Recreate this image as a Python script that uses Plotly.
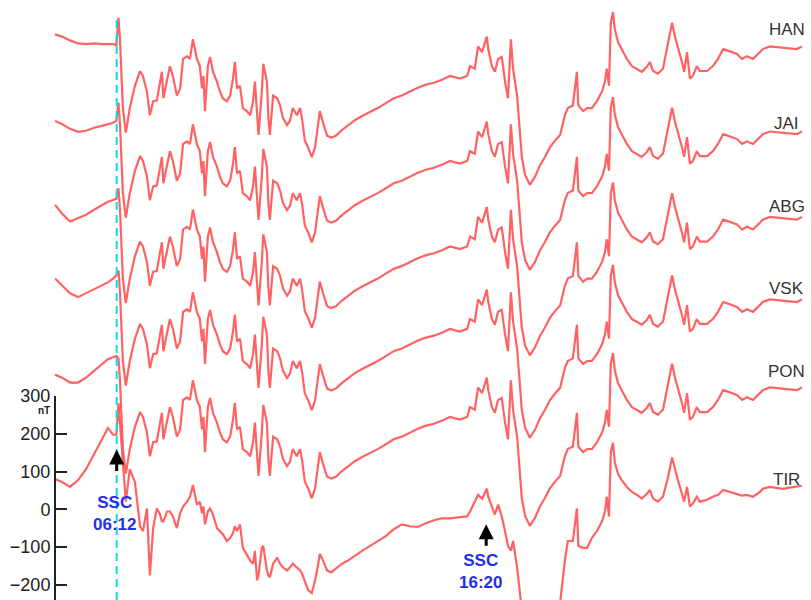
import plotly.graph_objects as go

# UT hours
times = [
    4.51, 4.70, 4.92, 5.14, 5.36, 5.58, 5.80, 5.96, 6.10, 6.19,
    6.25, 6.29, 6.37, 6.45, 6.56, 6.70, 6.84, 6.92, 7.03, 7.11,
    7.20, 7.30, 7.39, 7.44, 7.48, 7.58, 7.66, 7.74, 7.85, 7.94,
    8.02, 8.13, 8.21, 8.29, 8.40, 8.48, 8.54, 8.58, 8.62, 8.70,
    8.76, 8.84, 8.95, 9.03, 9.11, 9.22, 9.31, 9.39, 9.44, 9.50,
    9.58, 9.66, 9.77, 9.86, 9.94, 9.99, 10.05, 10.09, 10.18, 10.22,
    10.32, 10.36, 10.40, 10.49, 10.60, 10.68, 10.76, 10.87, 10.95, 11.03,
    11.14, 11.23, 11.28, 11.36, 11.45, 11.55, 11.64, 11.72, 11.77, 11.86,
    11.97, 12.08, 12.21, 12.38, 12.54, 12.73, 12.93, 13.15, 13.36, 13.58,
    13.80, 14.02, 14.24, 14.46, 14.68, 14.90, 15.12, 15.34, 15.61, 15.81,
    15.89, 16.02, 16.11, 16.22, 16.35, 16.39, 16.49, 16.57, 16.66, 16.76,
    16.85, 16.93, 17.01, 17.07, 17.18, 17.26, 17.31, 17.40, 17.53, 17.67,
    17.81, 17.94, 18.08, 18.22, 18.36, 18.49, 18.57, 18.71, 18.82, 18.86,
    18.99, 19.10, 19.23, 19.37, 19.51, 19.59, 19.64, 19.70, 19.75, 19.81,
    19.86, 19.95, 20.05, 20.19, 20.33, 20.47, 20.60, 20.74, 20.82, 20.91,
    21.04, 21.18, 21.32, 21.43, 21.51, 21.59, 21.70, 21.76, 21.84, 21.92,
    22.00, 22.11, 22.19, 22.39, 22.55, 22.69, 22.83, 23.02, 23.21, 23.35,
    23.48, 23.65, 23.84, 23.92, 24.11, 24.31, 24.47, 24.66, 24.85, 24.99,
]

# H-component deviations (nT) from each station's pre-SSC level
han = [
    29, 23, 13, 5, 3, 5, 3, 3, 3, 0,
    73, 16, -166, -231, -166, -107, -68, -81, -122, -185,
    -148, -146, -96, -70, -140, -88, -55, -81, -133, -114,
    -36, -29, -36, 16, -36, -55, -114, -81, -174, -55,
    -31, -70, -96, -122, -140, -148, -133, -88, -44, -114,
    -107, -166, -174, -185, -148, -96, -192, -237, -122, -49,
    -96, -192, -237, -133, -140, -159, -192, -211, -200, -166,
    -185, -166, -192, -252, -270, -296, -270, -200, -174, -205,
    -239, -244, -239, -224, -213, -198, -187, -177, -166, -153,
    -140, -133, -122, -112, -104, -99, -91, -81, -88, -81,
    -55, -62, -3, -18, 23, -10, -55, -70, -36, -31,
    -96, -140, 16, -62, -133, -237, -296, -343, -369, -348,
    -317, -296, -270, -252, -237, -185, -166, -159, -70, -159,
    -174, -166, -166, -148, -122, -96, -62, -107, 60, 88,
    42, 8, -10, -36, -55, -62, -70, -57, -44, -68,
    -75, -62, 8, 60, 23, -3, -44, -70, -18, -88,
    -81, -55, -68, -68, -55, -36, -10, -16, -23, -36,
    -29, -36, -18, -10, -3, -5, -8, -10, -10, -3,
]

jai = [
    0, -8, -21, -29, -26, -18, -13, -8, -5, 0,
    48, -9, -191, -256, -191, -132, -93, -106, -147, -210,
    -173, -171, -121, -95, -165, -113, -80, -106, -158, -139,
    -61, -54, -61, -9, -61, -80, -139, -106, -199, -80,
    -56, -95, -121, -147, -165, -173, -158, -113, -69, -139,
    -132, -191, -199, -210, -173, -121, -217, -262, -147, -74,
    -121, -217, -262, -158, -165, -184, -217, -236, -225, -191,
    -210, -191, -217, -277, -295, -321, -295, -225, -199, -230,
    -264, -269, -264, -249, -238, -223, -212, -202, -191, -178,
    -165, -158, -147, -137, -129, -124, -116, -106, -113, -106,
    -80, -87, -28, -43, -2, -35, -80, -95, -61, -56,
    -121, -165, -9, -87, -158, -262, -321, -368, -394, -373,
    -342, -321, -295, -277, -262, -210, -191, -184, -95, -184,
    -199, -191, -191, -173, -147, -121, -87, -132, 35, 63,
    17, -17, -35, -61, -80, -87, -95, -82, -69, -93,
    -100, -87, -17, 35, -2, -28, -69, -95, -43, -113,
    -106, -80, -93, -93, -80, -61, -35, -41, -48, -61,
    -54, -61, -43, -35, -28, -30, -33, -35, -35, -28,
]

abg = [
    -16, -39, -60, -52, -42, -29, -16, -8, -3, 0,
    28, -29, -211, -276, -211, -152, -113, -126, -167, -230,
    -193, -191, -141, -115, -185, -133, -100, -126, -178, -159,
    -81, -74, -81, -29, -81, -100, -159, -126, -219, -100,
    -76, -115, -141, -167, -185, -193, -178, -133, -89, -159,
    -152, -211, -219, -230, -193, -141, -237, -282, -167, -94,
    -141, -237, -282, -178, -185, -204, -237, -256, -245, -211,
    -230, -211, -237, -297, -315, -341, -315, -245, -219, -250,
    -284, -289, -284, -269, -258, -243, -232, -222, -211, -198,
    -185, -178, -167, -157, -149, -144, -136, -126, -133, -126,
    -100, -107, -48, -63, -22, -55, -100, -115, -81, -76,
    -141, -185, -29, -107, -178, -282, -341, -388, -414, -393,
    -362, -341, -315, -297, -282, -230, -211, -204, -115, -204,
    -219, -211, -211, -193, -167, -141, -107, -152, 15, 43,
    -3, -37, -55, -81, -100, -107, -115, -102, -89, -113,
    -120, -107, -37, 15, -22, -48, -89, -115, -63, -133,
    -126, -100, -113, -113, -100, -81, -55, -61, -68, -81,
    -74, -81, -63, -55, -48, -50, -53, -55, -55, -48,
]

vsk = [
    -8, -26, -47, -57, -47, -36, -26, -18, -8, 0,
    13, -44, -226, -291, -226, -167, -128, -141, -182, -245,
    -208, -206, -156, -130, -200, -148, -115, -141, -193, -174,
    -96, -89, -96, -44, -96, -115, -174, -141, -234, -115,
    -91, -130, -156, -182, -200, -208, -193, -148, -104, -174,
    -167, -226, -234, -245, -208, -156, -252, -297, -182, -109,
    -156, -252, -297, -193, -200, -219, -252, -271, -260, -226,
    -245, -226, -252, -312, -330, -356, -330, -260, -234, -265,
    -299, -304, -299, -284, -273, -258, -247, -237, -226, -213,
    -200, -193, -182, -172, -164, -159, -151, -141, -148, -141,
    -115, -122, -63, -78, -37, -70, -115, -130, -96, -91,
    -156, -200, -44, -122, -193, -297, -356, -403, -429, -408,
    -377, -356, -330, -312, -297, -245, -226, -219, -130, -219,
    -234, -226, -226, -208, -182, -156, -122, -167, 0, 28,
    -18, -52, -70, -96, -115, -122, -130, -117, -104, -128,
    -135, -122, -52, 0, -37, -63, -104, -130, -78, -148,
    -141, -115, -128, -128, -115, -96, -70, -76, -83, -96,
    -89, -96, -78, -70, -63, -65, -68, -70, -70, -63,
]

pon = [
    -49, -57, -70, -70, -57, -39, -21, -8, -3, 0,
    -7, -64, -246, -311, -246, -187, -148, -161, -202, -265,
    -228, -226, -176, -150, -220, -168, -135, -161, -213, -194,
    -116, -109, -116, -64, -116, -135, -194, -161, -254, -135,
    -111, -150, -176, -202, -220, -228, -213, -168, -124, -194,
    -187, -246, -254, -265, -228, -176, -272, -317, -202, -129,
    -176, -272, -317, -213, -220, -239, -272, -291, -280, -246,
    -265, -246, -272, -332, -350, -376, -350, -280, -254, -285,
    -319, -324, -319, -304, -293, -278, -267, -257, -246, -233,
    -220, -213, -202, -192, -184, -179, -171, -161, -168, -161,
    -135, -142, -83, -98, -57, -90, -135, -150, -116, -111,
    -176, -220, -64, -142, -213, -317, -376, -423, -449, -428,
    -397, -376, -350, -332, -317, -265, -246, -239, -150, -239,
    -254, -246, -246, -228, -202, -176, -142, -187, -20, 8,
    -38, -72, -90, -116, -135, -142, -150, -137, -124, -148,
    -155, -142, -72, -20, -57, -83, -124, -150, -98, -168,
    -161, -135, -148, -148, -135, -116, -90, -96, -103, -116,
    -109, -116, -98, -90, -83, -85, -88, -90, -90, -83,
]

tir = [
    -117, -125, -138, -120, -91, -52, -13, 18, 0, 0,
    83, 31, -99, -177, -91, -125, -242, -255, -195, -372,
    -247, -195, -211, -229, -229, -203, -203, -216, -247, -208,
    -190, -177, -164, -133, -185, -177, -208, -190, -237, -203,
    -195, -211, -247, -255, -263, -281, -273, -260, -242, -255,
    -237, -299, -320, -333, -341, -307, -385, -372, -299, -294,
    -359, -372, -377, -341, -325, -341, -351, -359, -351, -341,
    -351, -359, -367, -390, -411, -419, -385, -346, -315, -333,
    -359, -364, -354, -341, -333, -320, -307, -294, -281, -268,
    -250, -237, -242, -244, -234, -226, -221, -221, -218, -216,
    -203, -177, -159, -169, -143, -164, -190, -211, -185, -216,
    -255, -294, -307, -281, -351, -419, -463, -502, -541, -541,
    -515, -502, -484, -463, -445, -333, -281, -281, -195, -294,
    -299, -299, -273, -255, -229, -203, -164, -216, -47, -21,
    -73, -104, -120, -138, -151, -159, -169, -156, -146, -169,
    -177, -164, -112, -60, -94, -120, -156, -177, -138, -190,
    -182, -164, -177, -172, -164, -159, -146, -151, -156, -161,
    -159, -164, -151, -143, -138, -140, -143, -140, -138, -135,
]

stations = ["HAN", "JAI", "ABG", "VSK", "PON", "TIR"]
series = [han, jai, abg, vsk, pon, tir]
offsets = [1227, 1027, 821, 618, 405, 197]
label_y = [0.967, 0.807, 0.667, 0.528, 0.388, 0.205]

ssc_times = [6.2, 16.333]
ssc_text = ["SSC<br>06:12", "SSC<br>16:20"]
arrow_tip = [158, -40]
text_pos = [(6.13, -10), (16.19, -165)]

axis_ticks = [-200, -100, 0, 100, 200, 300]

fig = go.Figure()
for name, dev, off in zip(stations, series, offsets):
    fig.add_trace(go.Scatter(
        x=times, y=[v + off for v in dev], mode="lines", name=name,
        line=dict(color="rgba(255,85,85,0.92)", width=2.2),
        hoverinfo="skip", showlegend=False))

# empty trace that carries the nT scale axis
fig.add_trace(go.Scatter(x=[], y=[], xaxis="x", yaxis="y2", showlegend=False))

fig.add_shape(type="line", xref="x", yref="paper", x0=ssc_times[0], x1=ssc_times[0],
              y0=0, y1=0.99, line=dict(color="#00E0E8", width=2, dash="8px,5px"))

for t, tip in zip(ssc_times, arrow_tip):
    fig.add_annotation(x=t, y=tip, xref="x", yref="y", text="", showarrow=True,
                       ax=0, ay=23, arrowhead=2, arrowsize=1, arrowwidth=3,
                       arrowcolor="black")
for (tx, ty), txt in zip(text_pos, ssc_text):
    fig.add_annotation(x=tx, y=ty, xref="x", yref="y", text="<b>" + txt + "</b>",
                       showarrow=False, align="center",
                       font=dict(family="Arial", size=17, color="#1F2FF0"))

for name, ly in zip(stations, label_y):
    fig.add_annotation(x=0.970, y=ly, xref="paper", yref="paper", text=name,
                       showarrow=False, xanchor="center", yanchor="middle",
                       font=dict(family="Arial", size=17, color="#333333"))

fig.add_annotation(x=0.044, y=0.309, xref="paper", yref="paper", text="<b>nT</b>",
                   showarrow=False, font=dict(family="Arial", size=10, color="#222222"))

fig.update_layout(
    width=811, height=600,
    margin=dict(l=0, r=0, t=0, b=0),
    paper_bgcolor="white", plot_bgcolor="rgba(0,0,0,0)",
    xaxis=dict(range=[3.0, 25.24], visible=False),
    yaxis=dict(range=[-240.1, 1320.4], visible=False, domain=[0, 1]),
    yaxis2=dict(domain=[0, 0.3455], range=[-240.1, 300], anchor="free",
                position=55 / 811, side="left", showline=True, linecolor="#222222",
                linewidth=2, ticks="inside", ticklen=11, tickwidth=2,
                tickcolor="#222222", tickvals=axis_ticks, showgrid=False,
                zeroline=False, tickfont=dict(family="Arial", size=18, color="#222222")),
)

fig.write_html("out.html", config={"displayModeBar": False},
               post_script="document.body.style.margin='0';document.body.style.overflow='hidden';")
